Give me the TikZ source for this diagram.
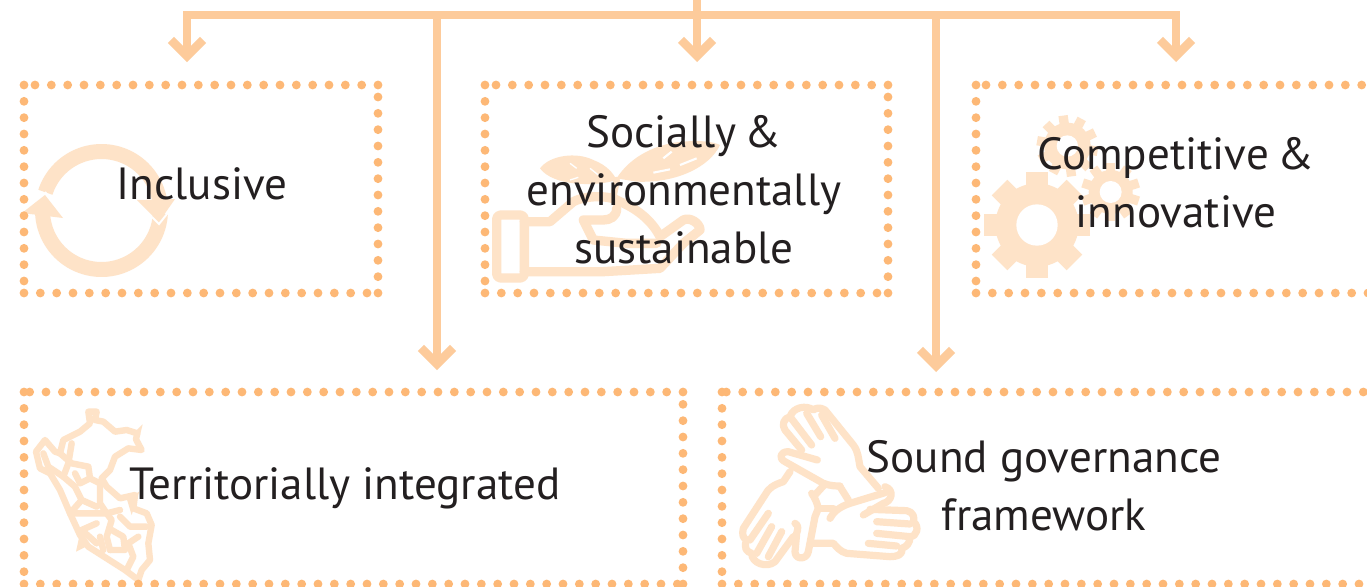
\documentclass[tikz,border=0pt]{standalone}
\usepackage{fontspec}
\setmainfont{PT Sans}
\usetikzlibrary{arrows.meta,fit}
\definecolor{dotc}{HTML}{FDB876}
\definecolor{connc}{HTML}{FDCB9B}
\definecolor{iconc}{HTML}{FEE3C8}
\definecolor{textc}{HTML}{231F20}
\tikzset{
  framebox/.style={rectangle,inner sep=0pt,outer sep=0pt},
  dotline/.style={draw=dotc,line width=6.6pt,line cap=round,dash pattern=on 0pt off 12.25pt},
  conn/.style={draw=connc,line width=6.4pt,line join=miter,-{Straight Barb[length=12pt,width=24pt,line width=6.4pt]}},
  label/.style={font=\fontsize{33.8pt}{43.5pt}\selectfont,text=textc,align=center,inner sep=0pt},
  iconline/.style={draw=iconc,line join=round,line cap=round},
  iconfill/.style={fill=iconc,draw=none},
}
\newcommand\dotframe[5]{%
  \coordinate (#1nw) at (#2,#3);
  \coordinate (#1se) at (#4,#5);
  \node[framebox,fit=(#1nw)(#1se)] (#1) {};
  \path[dotline] (#1.north east) -- (#1.north west);
  \path[dotline] (#1.north west) -- (#1.south west);
  \path[dotline] (#1.south west) -- (#1.south east);
  \path[dotline] (#1.south east) -- (#1.north east);
}
\newcommand\gearicon[7]{%
  \fill[iconc] (#1,#2) circle[radius=#3];
  \foreach \a in {1,...,#5}{
    \fill[iconc,shift={(#1,#2)},rotate=\a*360/#5+#7] (-#6,0) rectangle (#6,#4);
  }
}
\begin{document}
\begin{tikzpicture}[x=0.75pt,y=-0.75pt]
\useasboundingbox (0,0) rectangle (1367,586);
\clip (0,0) rectangle (1367,586);
\fill[white] (0,0) rectangle (1367,586);

% circular arrows
\draw[iconline,line width=11.25pt,line cap=butt] plot[domain=198:352,samples=50] ({101.5+59*cos(\x)},{210.5+59*sin(\x)});
\draw[iconline,line width=11.25pt,line cap=butt] plot[domain=3:178,samples=50] ({101.5+59*cos(\x)},{210.5+59*sin(\x)});
\fill[iconc] (22,213) -- (45,195) -- (63,218) -- cycle;
\fill[iconc] (137,200) -- (175,199) -- (159,222) -- cycle;
\draw[white,line width=1.5pt] (45,192) -- (65,216);
\draw[white,line width=1.5pt] (152,217) -- (159,224) -- (175,204);

% plant in hand
\begin{scope}[shift={(470,80)},x=0.25pt,y=-0.25pt]
  \draw[iconline,line width=7pt,rounded corners=3pt] (80,405) rectangle (163,594);
  \draw[iconline,line width=7pt] (163,425) -- (240,425) -- (310,365) .. controls (350,345) and (420,345) .. (450,365) .. controls (510,390) and (550,430) .. (570,470) -- (640,420) .. controls (660,410) and (690,430) .. (690,450) -- (640,490) -- (570,565) -- (400,575) -- (163,575);
  \draw[iconline,line width=7pt] (440,385) .. controls (440,410) and (420,420) .. (400,420) -- (340,420) -- (370,480) -- (470,490) -- (560,490);
  \fill[iconc] (210,265) .. controls (240,225) and (320,215) .. (370,240) .. controls (410,255) and (430,280) .. (440,300) .. controls (380,320) and (250,320) .. (210,265) -- cycle;
  \fill[iconc] (440,295) .. controls (480,230) and (560,190) .. (640,185) .. controls (690,180) and (730,185) .. (750,195) .. controls (720,260) and (620,310) .. (500,305) -- cycle;
  \draw[white,line width=1pt] (300,250) -- (320,265);
  \draw[white,line width=1pt] (360,265) -- (385,285);
  \draw[white,line width=1pt] (300,300) -- (325,292);
  \draw[white,line width=1.6pt] (580,235) -- (605,215);
  \draw[white,line width=1.6pt] (550,278) -- (600,268);
  \draw[white,line width=1.6pt] (630,255) -- (680,235);
  \draw[iconline,line width=5pt] (440,300) -- (430,350);
\end{scope}

% gears
\begin{scope}[shift={(960,0)},x=0.25pt,y=-0.25pt]
  \gearicon{322}{438}{70}{92}{10}{14}{8}
  \fill[white] (322,438) circle[radius=32];
  \gearicon{452}{576}{66}{88}{10}{14}{0}
  \fill[white] (452,576) circle[radius=33];
  \gearicon{231}{675}{125}{159}{8}{33}{0}
  \fill[white] (231,675) circle[radius=62];
\end{scope}

% map
\begin{scope}[shift={(0,380)},x=0.25pt,y=-0.25pt]
  \tikzset{mapline/.style={iconline,line width=4.8pt}}
  \draw[mapline] (265,95) -- (290,95) -- (285,120) -- (310,125) -- (345,155) -- (380,150) -- (412,160) -- (408,178) -- (425,210) -- (385,205) -- (345,230) -- (330,270) -- (305,295) -- (320,320) -- (360,355) -- (405,345) -- (400,385) -- (440,400) -- (455,435) -- (445,490) -- (450,540) -- (425,570) -- (415,600) -- (375,570) -- (320,535) -- (265,500) -- (240,465) -- (210,400) -- (180,330) -- (150,280) -- (120,265) -- (108,215) -- (135,180) -- (165,215) -- (180,220) -- (190,180) -- (240,155) -- (270,130) -- cycle;
  \fill[iconc] (420,165) -- (428,133) -- (405,155) -- cycle;
  \fill[iconc] (395,405) -- (418,335) -- (380,355) -- cycle;
  \fill[iconc] (228,515) -- (240,460) -- (262,498) -- cycle;
  \draw[mapline] (180,220) -- (215,250) -- (265,260) -- (270,295) -- (300,310) -- (300,370) -- (320,400) -- (335,420) -- (320,470) -- (330,510);
  \draw[mapline] (215,190) -- (205,250) -- (190,290) -- (225,320) -- (245,360) -- (290,380);
  \draw[mapline] (130,220) -- (145,260) -- (190,290);
  \draw[mapline] (215,400) -- (260,400) -- (320,400) -- (360,390);
  \draw[mapline] (360,410) -- (390,440) -- (440,440);
  \draw[mapline] (415,470) -- (385,490) -- (400,530) -- (380,570);
  \draw[mapline] (335,450) -- (370,470) -- (375,510) -- (330,510);
  \draw[mapline] (290,430) -- (245,450) -- (290,490);
  \draw[mapline] (300,470) -- (310,510);
  \draw[mapline] (245,360) -- (210,400);
  \draw[mapline] (225,280) -- (240,310) -- (270,295);
\end{scope}

% hands
\begin{scope}[shift={(700,380)},x=0.25pt,y=-0.25pt]
  \tikzset{handline/.style={iconline,line width=5.4pt}}
  \draw[handline] (535,325) -- (480,260) .. controls (475,235) and (475,215) .. (460,195) -- (375,90) .. controls (360,80) and (345,85) .. (340,90) .. controls (320,75) and (280,80) .. (270,110) .. controls (250,115) and (245,135) .. (255,150) -- (305,210);
  \draw[handline] (352,240) -- (265,215) .. controls (240,215) and (235,235) .. (255,245) -- (370,310) .. controls (390,318) and (410,318) .. (420,318);
  \draw[handline] (270,110) -- (335,195);
  \draw[handline] (320,100) -- (362,170);
  \draw[handline] (365,105) -- (405,175);
  \draw[handline] (270,275) -- (250,305) .. controls (220,315) and (205,325) .. (195,345) -- (130,445) .. controls (125,465) and (130,475) .. (140,480) .. controls (130,505) and (140,515) .. (155,520) .. controls (155,550) and (200,565) .. (225,545) -- (280,470);
  \draw[handline] (285,430) .. controls (295,435) and (295,445) .. (290,460) -- (285,515) .. controls (285,540) and (320,540) .. (325,515) -- (345,410) -- (355,385) .. controls (350,365) and (345,355) .. (335,340);
  \draw[handline] (205,400) -- (150,480);
  \draw[handline] (215,440) -- (170,520);
  \draw[handline] (245,455) -- (205,530);
  \draw[handline] (555,338) -- (450,370) .. controls (420,380) and (400,395) .. (390,415);
  \draw[handline] (555,320) .. controls (585,330) and (575,365) .. (550,370) -- (490,405);
  \draw[handline] (510,388) -- (620,392) .. controls (640,395) and (645,415) .. (640,425) .. controls (660,440) and (650,470) .. (630,470) .. controls (630,490) and (620,500) .. (605,505) .. controls (610,525) and (590,530) .. (570,530) -- (440,520) .. controls (420,515) and (410,500) .. (400,490) -- (335,490);
  \draw[handline] (530,425) -- (630,432);
  \draw[handline] (530,460) -- (630,470);
  \draw[handline] (505,490) -- (590,498);
  \draw[handline] (345,345) -- (375,312);
  \draw[handline] (420,320) -- (445,360);
  \draw[handline] (355,385) -- (400,385);
\end{scope}

% frames
\dotframe{inc}{24}{85}{378}{293}
\dotframe{soc}{485}{85}{888}{293}
\dotframe{comp}{976}{85}{1378}{293}
\dotframe{terr}{24}{392}{683}{584}
\dotframe{gov}{722}{392}{1396}{584}

% connectors
\coordinate (trunk) at (697,0);
\coordinate (barleft) at (187,15);
\coordinate (barright) at (1176,15);
\coordinate (barmid) at (697,15);
\coordinate (barterr) at (437,15);
\coordinate (bargov) at (936,15);
\coordinate (endinc) at (187,62);
\coordinate (endsoc) at (697,62);
\coordinate (endcomp) at (1176,62);
\coordinate (endterr) at (437,370);
\coordinate (endgov) at (936,372);
\draw[conn] (barmid) -- (barleft) -- (endinc);
\draw[conn] (barmid) -- (barright) -- (endcomp);
\draw[conn] (trunk) -- (endsoc);
\draw[conn] (barterr) -- (endterr);
\draw[conn] (bargov) -- (endgov);

% labels
\node[label] (incl) at (202,184) {Inclusive};
\node[label] (socl) at (684,190) {Socially\hspace{-0.08em} \&\\environmentally\\sustainable};
\node[label] (compl) at (1176,183) {Competitive\hspace{-0.08em} \&\\innovative};
\node[label] (terrl) at (345,488) {Territorially integrated};
\node[label] (govl) at (1044,485.5) {Sound governance\\framework};
\end{tikzpicture}
\end{document}
